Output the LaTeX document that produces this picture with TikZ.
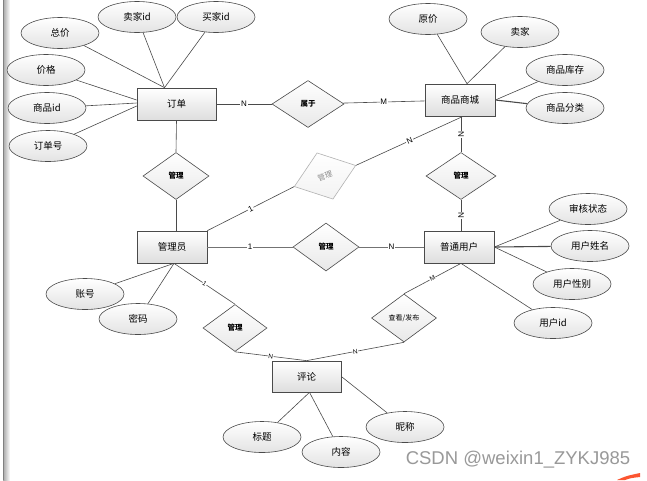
\documentclass[tikz,border=0pt]{standalone}
\usepackage{fontspec}
\setmainfont{Noto Sans CJK SC}
\newfontfamily\wmfont{Liberation Sans}
\usetikzlibrary{shapes.geometric,calc}
\definecolor{csdnor}{HTML}{FC5531}
\definecolor{lnc}{HTML}{4A4A4A}
\begin{document}
\begin{tikzpicture}[x=1pt,y=-1pt,
  ent/.style={draw=lnc, line width=0.7pt, top color=white, bottom color=black!13, minimum width=70pt, minimum height=32pt, inner sep=0pt, font=\fontsize{9.5}{11}\selectfont},
  attr/.style={ellipse, draw=lnc, line width=0.6pt, top color=white, bottom color=black!11, minimum width=78pt, minimum height=31pt, inner sep=0pt, font=\fontsize{9.5}{11}\selectfont},
  rel/.style={diamond, draw=lnc, line width=0.6pt, top color=white, bottom color=black!9, minimum width=66pt, minimum height=47pt, inner sep=0pt, font=\fontsize{7.5}{8}\selectfont\bfseries},
  grel/.style={rel, draw=black!30, top color=white, bottom color=black!5, text=black!45, font=\fontsize{7.5}{8}\selectfont},
  ln/.style={draw=lnc, line width=0.6pt},
  card/.style={fill=white, inner sep=0.8pt, font=\wmfont\fontsize{8}{8}\selectfont},
  cards/.style={fill=white, inner sep=0.5pt, font=\wmfont\fontsize{6.5}{7}\selectfont}
]
\useasboundingbox (0,0) rectangle (647,480);
\fill[white] (0,0) rectangle (647,480);
% left border
\shade[left color=black!35, right color=white] (3,0) rectangle (10,480);
\draw[black!50, line width=0.6pt] (3,0) -- (3,480);

% entities
\node[ent, minimum width=79pt] (dd) at (176.5,104) {订单};
\node[ent] (sc) at (460,100) {商品商城};
\node[ent] (gly) at (172,247) {管理员};
\node[ent] (pt) at (459,247) {普通用户};
\node[ent, minimum width=69pt, minimum height=31pt] (pl) at (306.5,376.5) {评论};

% attributes
\node[attr] (zj) at (60,33) {总价};
\node[attr] (mjid) at (137,17) {卖家id};
\node[attr] (bjid) at (216,17) {买家id};
\node[attr] (jg) at (46,70) {价格};
\node[attr] (spid) at (47,108) {商品id};
\node[attr] (ddh) at (48,146) {订单号};
\node[attr] (yj) at (428,19) {原价};
\node[attr] (mj) at (520,32) {卖家};
\node[attr] (spkc) at (565,70) {商品库存};
\node[attr] (spfl) at (565,108) {商品分类};
\node[attr] (shzt) at (588,209) {审核状态};
\node[attr] (yhxm) at (590,246) {用户姓名};
\node[attr] (yhxb) at (572,284) {用户性别};
\node[attr] (yhid) at (553,323) {用户id};
\node[attr] (zh) at (85,294) {账号};
\node[attr] (mm) at (138,319) {密码};
\node[attr] (bt) at (262,437) {标题};
\node[attr] (nr) at (341,452) {内容};
\node[attr] (nc) at (405,427) {昵称};

% relations
\node[rel, minimum width=72pt] (sy) at (308,104) {属于};
\node[rel] (gl1) at (176,176) {管理};
\node[grel, minimum width=65pt, minimum height=49pt, rotate=19] (gl2) at (325,176) {管理};
\node[rel, minimum width=70pt] (gl3) at (461,176) {管理};
\node[rel, minimum height=48pt] (gl4) at (326,247) {管理};
\node[rel, minimum width=64pt] (gl5) at (235,328) {管理};
\node[rel, minimum width=65pt, minimum height=48pt, font=\fontsize{7}{8}\selectfont] (ck) at (404,318) {查看/发布};

% anchor points
\coordinate (ddt) at ($(dd.north)+(-12,0)$);
\coordinate (ddl1) at ($(dd.west)+(0,-4)$);
\coordinate (ddl2) at ($(dd.west)+(0,-1)$);
\coordinate (ddl3) at ($(dd.west)+(0,2)$);
\coordinate (sct) at ($(sc.north)+(7,0)$);
\coordinate (scb) at ($(sc.south)+(3,0)$);
\coordinate (glyb) at ($(gly.south)+(2,0)$);
\coordinate (ptb) at ($(pt.south)+(2,0)$);
\coordinate (plb) at ($(pl.south)+(3,0)$);

% order attributes
\draw[ln] (zj) -- (ddt);
\draw[ln] (mjid) -- (ddt);
\draw[ln] (bjid) -- (ddt);
\draw[ln] (jg) -- (ddl1);
\draw[ln] (spid) -- (ddl2);
\draw[ln] (ddh) -- (ddl3);
% mall attributes
\draw[ln] (yj) -- (sct);
\draw[ln] (mj) -- (sct);
\draw[ln] (spkc) -- (sc.east);
\draw[ln, line width=1.1pt] (spfl) -- (sc.east);
% user attributes
\draw[ln] (shzt) -- (pt.east);
\draw[ln, line width=1.1pt] (yhxm) -- (pt.east);
\draw[ln] (yhxb) -- (pt.east);
\draw[ln] (ptb) -- (yhid);
% admin attributes
\draw[ln] (zh) -- (glyb);
\draw[ln] (mm) -- (glyb);
% comment attributes
\draw[ln] (bt) -- (plb);
\draw[ln] (nr) -- (plb);
\draw[ln] (nc) -- (pl.east);

% relationships
\draw[ln] (dd) -- node[card]{N} (sy);
\draw[ln] (sy) -- node[card]{M} (sc);
\draw[ln] (dd.south) -- (gl1.north);
\draw[ln] (gl1.south) -- (gl1 |- gly.north);
\draw[ln] (sc.south -| gl3) -- node[card, sloped]{N} (gl3.north);
\draw[ln] (gl3.south) -- node[card, sloped]{N} (gl3 |- pt.north);
\draw[ln] (gly.north east) -- node[card, sloped]{1} (gl2.west);
\draw[ln] (gl2.east) -- node[card, sloped]{N} (scb);
\draw[ln, line width=1pt, draw=black!55] (gly) -- node[card]{1} (gl4);
\draw[ln, line width=1pt, draw=black!55] (gl4) -- node[card]{N} (pt);
\draw[ln] (glyb) -- node[cards, sloped]{1} (gl5.north);
\draw[ln] (gl5.south) -- node[cards, sloped]{N} (pl.north);
\draw[ln] (pl.north) -- node[cards, sloped]{N} (ck.south);
\draw[ln] (ck.north) -- node[cards, sloped]{M} (ptb);

% watermark
\node[font=\wmfont\fontsize{18.5}{20}\selectfont, text=black!40, inner sep=0pt] (wm) at (518,460) {CSDN @weixin1\_ZYKJ985};
\fill[csdnor] (617,480) .. controls (626,476) .. (640,473) -- (640,477) .. controls (631,478) .. (625,480) -- cycle;
\end{tikzpicture}
\end{document}
